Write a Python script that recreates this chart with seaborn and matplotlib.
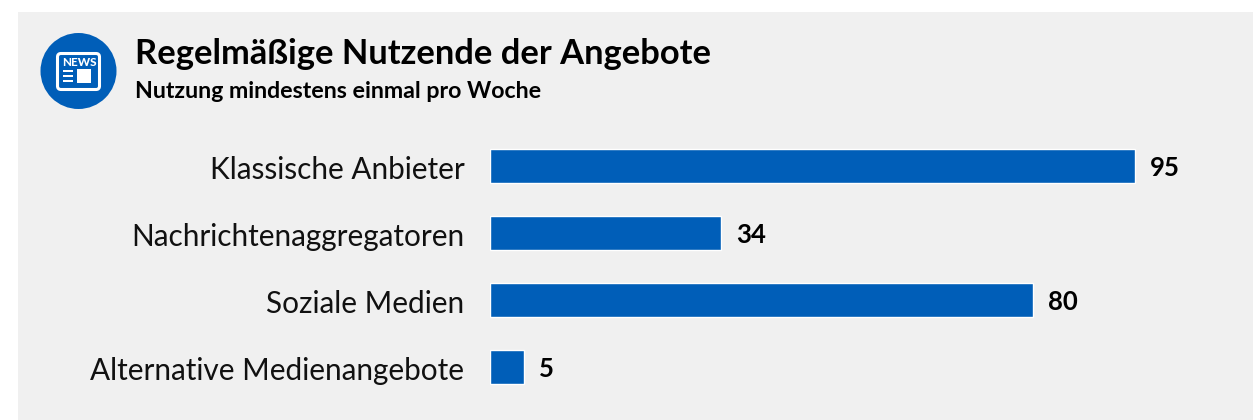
import matplotlib
matplotlib.use("Agg")
import matplotlib.pyplot as plt
from matplotlib.patches import Circle, FancyBboxPatch, Rectangle
from matplotlib.transforms import ScaledTranslation
import pandas as pd
import seaborn as sns

title = "Regelmäßige Nutzende der Angebote"
subtitle = "Nutzung mindestens einmal pro Woche"
categories = ["Klassische Anbieter", "Nachrichtenaggregatoren", "Soziale Medien", "Alternative Medienangebote"]
values = [95, 34, 80, 5]

BLUE = "#005EB8"
PANEL = "#F0F0F0"
W, H = 1253, 420

sns.set_theme(style="white")
plt.rcParams["font.family"] = ["Lato", "DejaVu Sans"]

fig = plt.figure(figsize=(W / 100, H / 100), dpi=100, facecolor="white")

# overlay in pixel coordinates: panel and icon
bg = fig.add_axes([0, 0, 1, 1], zorder=0)
bg.set_xlim(0, W)
bg.set_ylim(H, 0)
bg.axis("off")
bg.add_patch(Rectangle((18, 12), W - 18, H - 12, fc=PANEL, ec="none"))
bg.add_patch(Circle((78.5, 71), 38, fc=BLUE, ec="none"))
bg.add_patch(FancyBboxPatch((57.5, 53.5), 42, 36, boxstyle="round,pad=0,rounding_size=3.5", fc=BLUE, ec="white", lw=2.2))
bg.text(62, 62.5, "NEWS", color="white", fontsize=8.5, fontweight="black", va="center", ha="left")
for y in (70, 75, 80):
    bg.add_patch(Rectangle((63, y), 10, 2.4, fc="white", ec="none"))
bg.add_patch(Rectangle((77, 69), 14, 14, fc="white", ec="none"))

bg.text(135, 54.5, title, fontsize=24.8, fontweight="bold", color="black", va="center", ha="left")
bg.text(135, 91, subtitle, fontsize=16.7, fontweight="bold", color="black", va="center", ha="left")

# chart axes
LEFT = 490
ax = fig.add_axes([LEFT / W, 1 - 400.5 / H, (W - LEFT) / W, 268 / H], zorder=1)
ax.patch.set_alpha(0)
df = pd.DataFrame({"cat": categories, "val": values})
sns.barplot(data=df, x="val", y="cat", color=BLUE, saturation=1, width=0.495, ax=ax)
ax.set_xlim(0, (W - LEFT) / 6.79)
ax.set_ylim(3.5, -0.5)
ax.set_xlabel("")
ax.set_ylabel("")
ax.xaxis.set_visible(False)
sns.despine(ax=ax, left=True, bottom=True)
ax.tick_params(axis="y", length=0, pad=18.5, labelsize=21.4, labelcolor="#111111")
nudge = ScaledTranslation(0, -1.2 / 100, fig.dpi_scale_trans)
for lab in ax.get_yticklabels():
    lab.set_transform(lab.get_transform() + nudge)
for container in ax.containers:
    for ann in ax.bar_label(container, padding=11, fontsize=18.5, fontweight="bold", color="black"):
        x_off, y_off = ann.xyann
        ann.xyann = (x_off, y_off - 1.5)

fig.savefig("out.png", dpi=100, facecolor="white")
